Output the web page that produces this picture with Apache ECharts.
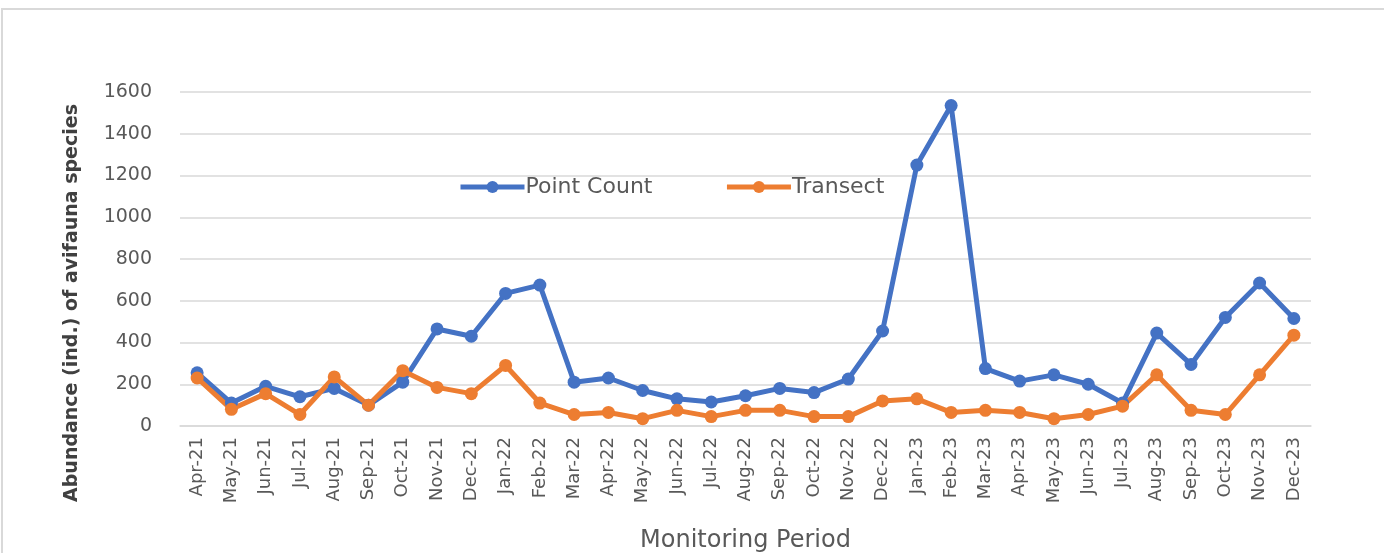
<!DOCTYPE html>
<html>
<head>
    <meta charset="utf-8">
    <title>ECharts</title>
    <script src="https://cdn.jsdelivr.net/npm/echarts@6/dist/echarts.min.js"></script>
</head>
<body style="margin:0;background:#fff;">
    <div id="main" style="width: 1384px;height:553px;"></div>

    <script type="text/javascript">
        // data
        var months = ['Apr-21','May-21','Jun-21','Jul-21','Aug-21','Sep-21','Oct-21','Nov-21','Dec-21',
            'Jan-22','Feb-22','Mar-22','Apr-22','May-22','Jun-22','Jul-22','Aug-22','Sep-22','Oct-22','Nov-22','Dec-22',
            'Jan-23','Feb-23','Mar-23','Apr-23','May-23','Jun-23','Jul-23','Aug-23','Sep-23','Oct-23','Nov-23','Dec-23'];
        var pointCount = [255, 110, 190, 140, 180, 100, 210, 465, 430,
            635, 675, 210, 230, 170, 130, 115, 145, 180, 160, 225, 455,
            1250, 1535, 275, 215, 245, 200, 110, 445, 295, 520, 685, 515];
        var transect = [230, 80, 155, 55, 235, 100, 265, 185, 155,
            290, 110, 55, 65, 35, 75, 45, 75, 75, 45, 45, 120,
            130, 65, 75, 65, 35, 55, 95, 245, 75, 55, 245, 435];
        var yTicks = [0, 1600, 200];

        var font = 'DejaVu Sans';
        var grey = '#595959';

        var myChart = echarts.init(document.getElementById('main'));

        var option = {
            animation: false,
            backgroundColor: '#fff',
            textStyle: { fontFamily: font },
            graphic: [
                {
                    type: 'rect',
                    shape: { x: 2, y: 9, width: 1400, height: 600 },
                    style: { fill: null, stroke: '#d9d9d9', lineWidth: 2 }
                },
                {
                    type: 'text',
                    x: 72, y: 303,
                    rotation: Math.PI / 2,
                    style: {
                        text: 'Abundance (ind.) of avifauna species',
                        fontFamily: font, fontSize: 19, fontWeight: 'bold',
                        fill: '#404040', align: 'center', verticalAlign: 'middle'
                    }
                }
            ],
            legend: {
                left: 453,
                top: 171,
                itemWidth: 64,
                itemHeight: 15,
                itemGap: 72,
                lineStyle: { width: 5 },
                textStyle: { color: grey, fontSize: 22, fontFamily: font, padding: [0, 0, 0, -4] },
                data: ['Point Count', 'Transect']
            },
            grid: {
                left: 180,
                right: 73,
                top: 92,
                bottom: 127,
                outerBoundsMode: 'none'
            },
            xAxis: {
                type: 'category',
                data: months,
                name: 'Monitoring Period',
                nameLocation: 'middle',
                nameGap: 103,
                nameTextStyle: { color: grey, fontSize: 24, fontFamily: font },
                axisLine: { lineStyle: { color: '#d9d9d9', width: 1.5 } },
                axisTick: { show: false },
                axisLabel: { rotate: 90, color: grey, fontSize: 18, margin: 11, interval: 0 }
            },
            yAxis: {
                type: 'value',
                min: yTicks[0],
                max: yTicks[1],
                interval: yTicks[2],
                axisLine: { show: false },
                axisTick: { show: false },
                axisLabel: {
                    color: grey, fontSize: 19, margin: 28,
                    formatter: function (v) { return String(v); }
                },
                splitLine: { lineStyle: { color: '#d9d9d9', width: 1.5 } }
            },
            series: [
                {
                    name: 'Point Count',
                    type: 'line',
                    data: pointCount,
                    symbol: 'circle',
                    symbolSize: 13,
                    itemStyle: { color: '#4472C4' },
                    lineStyle: { color: '#4472C4', width: 5 }
                },
                {
                    name: 'Transect',
                    type: 'line',
                    data: transect,
                    symbol: 'circle',
                    symbolSize: 13,
                    itemStyle: { color: '#ED7D31' },
                    lineStyle: { color: '#ED7D31', width: 5 }
                }
            ]
        };

        myChart.setOption(option);
    </script>
</body>
</html>
